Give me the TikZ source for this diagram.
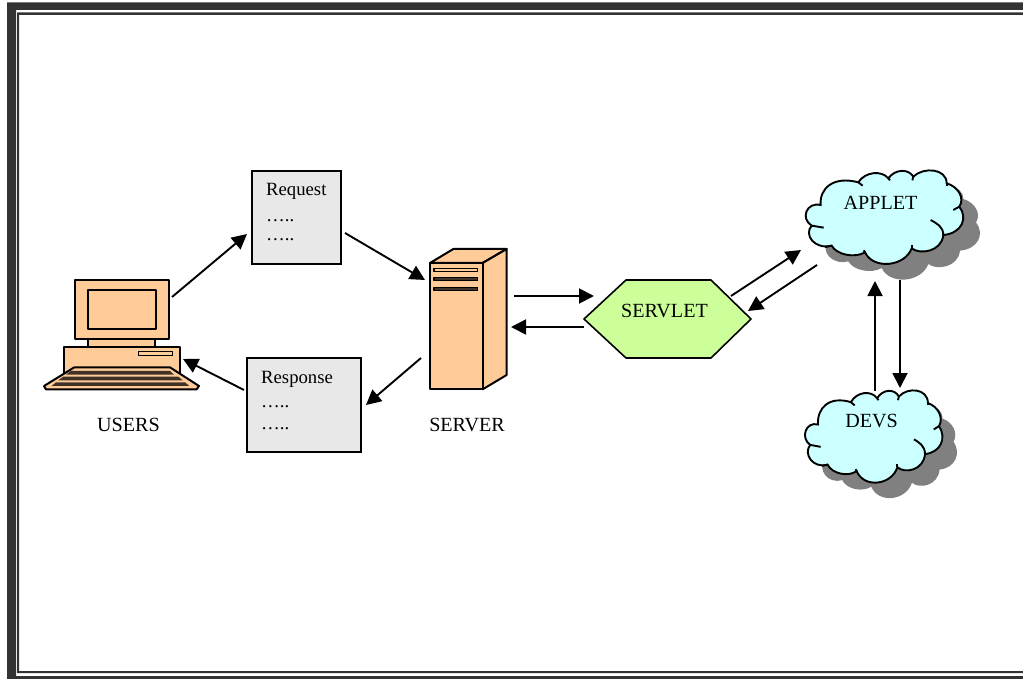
\documentclass[tikz,border=0pt]{standalone}
\usepackage{fontspec}
\setmainfont{Liberation Serif}
\usetikzlibrary{arrows.meta}
\definecolor{peach}{HTML}{FFCC99}
\definecolor{cloudfill}{HTML}{CCFFFF}
\definecolor{hexfill}{HTML}{CCFF99}
\definecolor{boxfill}{HTML}{E8E8E8}
\definecolor{frame}{HTML}{333333}
\definecolor{shadowgray}{HTML}{808080}
\newcommand{\cloudoutline}{(92,150) .. controls (88,100) and (130,62) .. (205,82)
 .. controls (225,50) and (275,45) .. (295,70)
 .. controls (315,42) and (355,40) .. (370,65)
 .. controls (400,35) and (470,40) .. (470,85)
 .. controls (505,95) and (525,130) .. (508,155)
 .. controls (535,190) and (515,235) .. (460,240)
 .. controls (455,290) and (390,300) .. (365,280)
 .. controls (345,335) and (250,345) .. (225,292)
 .. controls (195,310) and (140,300) .. (125,272)
 .. controls (75,285) and (40,240) .. (65,212)
 .. controls (30,190) and (50,140) .. (92,150) -- cycle}
\newcommand{\cloudshape}{%
 \begin{scope}[shift={(50,47)}]
 \fill[shadowgray] \cloudoutline;
 \end{scope}
 \draw[cloudline,fill=cloudfill] \cloudoutline;
 \draw[cloudline] (205,82) -- (218,92);
 \draw[cloudline] (295,70) -- (300,76);
 \draw[cloudline] (370,65) -- (367,76);
 \draw[cloudline] (470,85) -- (470,92);
 \draw[cloudline] (508,155) -- (490,165);
 \draw[cloudline] (460,240) .. controls (460,215) and (440,205) .. (422,195);
 \draw[cloudline] (365,280) -- (365,270);
 \draw[cloudline] (225,292) -- (221,286);
 \draw[cloudline] (125,272) -- (105,276);
 \draw[cloudline] (65,212) -- (101,218);
}
\tikzset{
 cloudline/.style={black,line width=1.9pt},
 link/.style={black,line width=1.9pt,-{Triangle[length=15pt,width=15pt]}},
 part/.style={draw=black,line width=2pt,fill=peach,line join=round},
 slot/.style={draw=black,line width=1.6pt,line join=round},
 paper/.style={draw=black,line width=1.4pt,fill=boxfill},
 label/.style={inner sep=0pt,font=\fontsize{20.1}{22}\selectfont,text=black},
 textline/.style={inner sep=0pt,font=\fontsize{18.7}{22}\selectfont,text=black,anchor=base west},
}
\begin{document}
\begin{tikzpicture}[x=1pt,y=-1pt]
\useasboundingbox (0,0) rectangle (1023,679);
\clip (0,0) rectangle (1023,679);
% frame
\fill[frame,even odd rule] (7,2.5) rectangle (1040,690) (16,10) rectangle (1040,676);
\fill[frame,even odd rule] (17,12.5) rectangle (1040,673) (19,15) rectangle (1040,671);
% computer
\begin{scope}[shift={(30,260)},x=0.3333pt,y=-0.3333pt]
 \draw[part] (175,237) rectangle (375,260);
 \draw[part] (135,60) rectangle (417,237);
 \draw[part] (175,90) rectangle (377,208);
 \draw[part] (102,260) rectangle (450,345);
 \draw[slot,fill=peach] (326,274) rectangle (428,286);
 \draw[part] (133,322) -- (420,322) -- (507,378) -- (500,388) -- (48,388) -- (42,378) -- cycle;
 \fill[black!75!peach] (122,333) -- (420,333) -- (432,344) -- (108,344) -- cycle;
 \fill[black!75!peach] (100,350) -- (445,350) -- (458,361) -- (85,361) -- cycle;
 \fill[black!75!peach] (78,367) -- (465,367) -- (478,378) -- (65,378) -- cycle;
\end{scope}
% server
\begin{scope}[shift={(410,235)},x=0.3333pt,y=-0.3333pt]
 \draw[part] (60,84) -- (130,42) -- (290,42) -- (218,84) -- cycle;
 \draw[part] (218,84) -- (290,42) -- (290,420) -- (218,463) -- cycle;
 \draw[part] (60,84) rectangle (218,463);
 \draw[slot,fill=peach] (72,100) rectangle (203,110);
 \draw[slot,fill=black!75!peach] (72,128) rectangle (203,137);
 \draw[slot,fill=black!75!peach] (72,157) rectangle (203,167);
\end{scope}
% clouds
\begin{scope}[shift={(790,155)},x=0.3333pt,y=-0.3333pt]
 \cloudshape
\end{scope}
\begin{scope}[shift={(791.3,375.2)},x=0.2907pt,y=-0.3287pt]
 \cloudshape
\end{scope}
% boxes
\draw[paper] (252,171) rectangle (341,264);
\draw[paper] (247,358) rectangle (361,452);
\node[textline] (req1) at (266,196) {Request};
\node[textline] (req2) at (266,222) {…..};
\node[textline] (req3) at (266,241) {…..};
\node[textline] (res1) at (261,383) {Response};
\node[textline] (res2) at (261,407) {…..};
\node[textline] (res3) at (261,429) {…..};
% hexagon
\draw[black,line width=1.6pt,fill=hexfill,line join=round] (584,319) -- (626,280) -- (711,280) -- (751,319) -- (711,358) -- (626,358) -- cycle;
\node[label] (servlet) at (664.5,310.5) {SERVLET};
\node[label] (applet) at (880.5,203) {APPLET};
\node[label] (devs) at (871.5,421) {DEVS};
\node[label] (users) at (128.5,424.5) {USERS};
\node[label] (server) at (467,424.5) {SERVER};
% arrow ends
\coordinate (a1) at (172,297); \coordinate (b1) at (247,234);
\coordinate (a2) at (345,233); \coordinate (b2) at (425,280);
\coordinate (a3) at (421,358); \coordinate (b3) at (366,405);
\coordinate (a4) at (244,390); \coordinate (b4) at (183,359);
\coordinate (a5) at (514,296); \coordinate (b5) at (594,296);
\coordinate (a6) at (584,327); \coordinate (b6) at (511,327);
\coordinate (a7) at (731,296); \coordinate (b7) at (801,250);
\coordinate (a8) at (817,265); \coordinate (b8) at (748,311);
\coordinate (a9) at (900,280); \coordinate (b9) at (900,388);
\coordinate (a10) at (875,391); \coordinate (b10) at (875,281);
\foreach \i in {1,...,10} \draw[link] (a\i) -- (b\i);
\end{tikzpicture}
\end{document}
